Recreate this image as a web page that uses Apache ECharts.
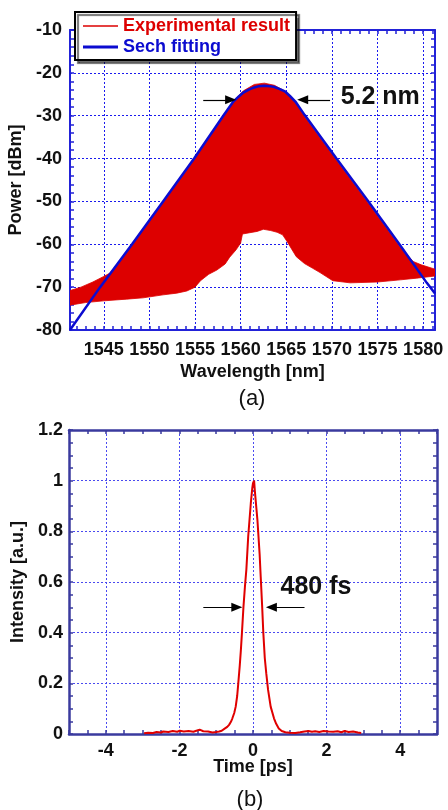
<!DOCTYPE html>
<html><head><meta charset="utf-8">
<script src="https://cdn.jsdelivr.net/npm/echarts@6.0.0/dist/echarts.min.js"></script>
<style>html,body{margin:0;padding:0;background:#fff}#c{width:448px;height:810px}</style>
</head><body><div id="c"></div>
<script>
// ---------- (a) optical spectrum ----------
const specUpperX = [1541.3, 1542.5, 1543.8, 1545.0, 1545.7, 1548.1, 1551.5, 1554.9, 1558.1, 1559.2, 1560.3, 1561.5, 1562.6, 1563.7, 1564.9, 1566.0, 1567.0, 1570.5, 1574.0, 1577.4, 1578.9, 1579.8, 1581.3];
const specUpperY = [-70.8, -70.0, -68.8, -67.5, -66.7, -60.2, -50.2, -40.2, -30.2, -26.6, -24.2, -22.7, -22.4, -22.9, -24.3, -26.9, -30.2, -40.4, -50.4, -60.4, -64.0, -64.8, -65.8];
const specLowerX = [1541.3, 1543.0, 1545.0, 1547.5, 1549.3, 1551.5, 1553.0, 1554.1, 1555.0, 1555.6, 1556.5, 1557.4, 1558.3, 1558.8, 1559.5, 1560.0, 1560.2, 1561.0, 1561.8, 1562.5, 1563.3, 1564.0, 1564.6, 1565.1, 1566.1, 1567.0, 1567.9, 1568.7, 1570.1, 1572.0, 1575.0, 1577.5, 1579.3, 1581.3];
const specLowerY = [-74.2, -73.6, -73.2, -72.8, -72.5, -71.8, -71.4, -70.9, -70.0, -68.5, -67.0, -66.0, -64.6, -63.0, -61.3, -59.7, -57.6, -57.3, -57.0, -56.5, -56.8, -57.2, -57.8, -59.4, -62.9, -64.5, -65.6, -66.6, -68.5, -69.0, -68.8, -68.3, -67.9, -67.4];
const sechX = [1541.3, 1544.6, 1548.1, 1551.5, 1554.9, 1558.1, 1559.2, 1559.8, 1560.3, 1560.9, 1561.5, 1562.0, 1562.6, 1563.2, 1563.7, 1564.3, 1564.9, 1565.4, 1566.0, 1567.0, 1570.5, 1574.0, 1577.4, 1580.4, 1581.3];
const sechY = [-80, -70, -60, -50, -40, -30, -26.7, -25.5, -24.6, -23.9, -23.4, -23.1, -23.0, -23.1, -23.3, -23.8, -24.4, -25.4, -26.7, -29.8, -40, -50, -60, -69, -71.5];
const aXRange = [1541.3, 1581.3];
const aXLabelRange = [1545, 1580];   // labelled ticks every 5 nm
const aXMinorStart = 1542;           // minor ticks every 1 nm
const aWidthText = '5.2 nm';
const aArrowY = -26.3;
const aArrowL = [1555.9, 1558.9];
const aArrowR = [1569.8, 1566.8];
const aTextPos = [1575.3, -25.7];

// ---------- (b) autocorrelation ----------
const pulseT = [-2.96, -2.85, -2.72, -2.62, -2.50, -2.44, -2.30, -2.18, -2.06, -1.99, -1.88, -1.75, -1.62, -1.54, -1.45, -1.35, -1.22, -1.10, -1.00, -0.92, -0.85, -0.78, -0.70, -0.65, -0.60, -0.56, -0.51, -0.47, -0.43, -0.40, -0.36, -0.33, -0.30, -0.26, -0.22, -0.18, -0.13, -0.06, -0.02, 0.00, 0.03, 0.05, 0.07, 0.12, 0.18, 0.21, 0.25, 0.28, 0.32, 0.36, 0.41, 0.48, 0.57, 0.63, 0.70, 0.78, 0.88, 1.00, 1.15, 1.28, 1.40, 1.51, 1.60, 1.69, 1.80, 1.92, 2.05, 2.18, 2.30, 2.40, 2.49, 2.60, 2.72, 2.85, 2.94];
const pulseI = [0.003, 0.005, 0.004, 0.008, 0.006, 0.010, 0.008, 0.012, 0.009, 0.013, 0.010, 0.012, 0.009, 0.013, 0.017, 0.011, 0.010, 0.006, 0.008, 0.010, 0.013, 0.020, 0.028, 0.036, 0.048, 0.062, 0.083, 0.108, 0.150, 0.200, 0.270, 0.330, 0.400, 0.500, 0.580, 0.650, 0.780, 0.910, 0.970, 0.990, 1.000, 0.960, 0.960, 0.845, 0.710, 0.620, 0.500, 0.400, 0.300, 0.240, 0.174, 0.108, 0.062, 0.040, 0.022, 0.012, 0.007, 0.005, 0.004, 0.007, 0.010, 0.012, 0.009, 0.011, 0.008, 0.012, 0.010, 0.009, 0.011, 0.007, 0.012, 0.008, 0.010, 0.006, 0.004];
const bXRange = [-5, 5];
const bXLabelRange = [-4, 4];        // labelled ticks every 2 ps
const bWidthText = '480 fs';
const bArrowY = 0.5;
const bArrowL = [-1.35, -0.44];
const bArrowR = [1.40, 0.50];
const bTextPos = [1.71, 0.58];

const FF = '"Liberation Sans", Arial, Helvetica, sans-serif';
const TXT = '#111';
const aFrame = '#2222d8', aGrid = '#1a1aee';
const bFrame = '#3a3a9e', bGrid = '#4a4af0';
const RED = '#dd0000', BLUE = '#0b0bd0';

// plot rectangles (pixels)
const A = { left: 70, top: 30, width: 365, height: 300 };
const B = { left: 69, top: 430, width: 368, height: 304 };
const aPx = A.width / (aXRange[1] - aXRange[0]);
const bPx = B.width / (bXRange[1] - bXRange[0]);
const gridA2 = { left: A.left + (aXLabelRange[0] - aXRange[0]) * aPx, top: A.top, width: (aXLabelRange[1] - aXLabelRange[0]) * aPx, height: A.height };
const gridA3 = { left: A.left + (aXMinorStart - aXRange[0]) * aPx, top: A.top, width: (aXRange[1] - aXMinorStart) * aPx, height: A.height };
const gridB2 = { left: B.left + (bXLabelRange[0] - bXRange[0]) * bPx, top: B.top, width: (bXLabelRange[1] - bXLabelRange[0]) * bPx, height: B.height };

function lbl(margin) { return { color: TXT, fontFamily: FF, fontWeight: 'bold', fontSize: 18, margin: margin, formatter: v => String(v) }; }
function nameStyle() { return { color: TXT, fontFamily: FF, fontWeight: 'bold', fontSize: 18 }; }
function dotted(c) { return { show: true, lineStyle: { color: c, width: 1, type: [2, 2] } }; }
const noLine = { show: false, onZero: false };
function line(c, w) { return { show: true, onZero: false, lineStyle: { color: c, width: w } }; }
function ticks(c) { return { show: true, inside: true, length: 4, lineStyle: { color: c, width: 1.5 } }; }
function hiddenY(gi) { return { type: 'value', gridIndex: gi, show: false, min: 0, max: 1 }; }

const chart = echarts.init(document.getElementById('c'), null, { renderer: 'canvas' });
const option = {
  animation: false,
  backgroundColor: '#fff',
  grid: [
    Object.assign({ outerBoundsMode: 'none' }, A),
    Object.assign({ outerBoundsMode: 'none' }, B),
    Object.assign({ outerBoundsMode: 'none' }, gridA2),
    Object.assign({ outerBoundsMode: 'none' }, gridA3),
    Object.assign({ outerBoundsMode: 'none' }, gridB2)
  ],
  legend: {
    left: 75, top: 12, orient: 'vertical', backgroundColor: '#fff', borderColor: '#000', borderWidth: 2,
    shadowColor: 'rgba(0,0,0,0.55)', shadowOffsetX: 3, shadowOffsetY: 3, shadowBlur: 1,
    padding: [5, 6, 4, 8], itemGap: 3, itemWidth: 35, itemHeight: 10, selectedMode: false,
    textStyle: { fontFamily: FF, fontSize: 18, fontWeight: 'bold' },
    itemStyle: { borderWidth: 0 },
    data: [
      { name: 'Experimental result', icon: 'path://M0,0M0,10M0,4.2L35,4.2L35,5.8L0,5.8Z', itemStyle: { color: RED, borderWidth: 0 }, textStyle: { color: RED } },
      { name: 'Sech fitting', icon: 'path://M0,0M0,10M0,3.5L35,3.5L35,6.5L0,6.5Z', itemStyle: { color: BLUE, borderWidth: 0 }, textStyle: { color: BLUE } }
    ]
  },
  xAxis: [
    // 0: (a) main bottom
    { type: 'value', gridIndex: 0, position: 'bottom', min: aXRange[0], max: aXRange[1],
      name: 'Wavelength [nm]', nameLocation: 'middle', nameGap: 33, nameTextStyle: nameStyle(),
      axisLine: line(aFrame, 2), axisTick: { show: false }, axisLabel: { show: false }, splitLine: { show: false } },
    // 1: (a) main top
    { type: 'value', gridIndex: 0, position: 'top', min: aXRange[0], max: aXRange[1],
      axisLine: line(aFrame, 2), axisTick: { show: false }, axisLabel: { show: false }, splitLine: { show: false } },
    // 2: (a) labels + grid lines
    { type: 'value', gridIndex: 2, position: 'bottom', min: aXLabelRange[0], max: aXLabelRange[1], interval: 5,
      axisLine: noLine, axisTick: { show: false }, axisLabel: lbl(11), splitLine: dotted(aGrid) },
    // 3,4: (a) minor ticks bottom/top
    { type: 'value', gridIndex: 3, position: 'bottom', min: aXMinorStart, max: aXRange[1], interval: 1,
      axisLine: noLine, axisTick: ticks(aFrame), axisLabel: { show: false }, splitLine: { show: false } },
    { type: 'value', gridIndex: 3, position: 'top', min: aXMinorStart, max: aXRange[1], interval: 1,
      axisLine: noLine, axisTick: ticks(aFrame), axisLabel: { show: false }, splitLine: { show: false } },
    // 5: (b) main bottom with ticks
    { type: 'value', gridIndex: 1, position: 'bottom', min: bXRange[0], max: bXRange[1], interval: 0.5,
      name: 'Time [ps]', nameLocation: 'middle', nameGap: 24, nameTextStyle: nameStyle(),
      axisLine: line(bFrame, 2.5), axisTick: ticks(bFrame), axisLabel: { show: false }, splitLine: { show: false } },
    // 6: (b) main top
    { type: 'value', gridIndex: 1, position: 'top', min: bXRange[0], max: bXRange[1], interval: 0.5,
      axisLine: line(bFrame, 2.5), axisTick: ticks(bFrame), axisLabel: { show: false }, splitLine: { show: false } },
    // 7: (b) labels + grid lines
    { type: 'value', gridIndex: 4, position: 'bottom', min: bXLabelRange[0], max: bXLabelRange[1], interval: 2,
      axisLine: noLine, axisTick: { show: false }, axisLabel: lbl(8), splitLine: dotted(bGrid) }
  ],
  yAxis: [
    { type: 'value', gridIndex: 0, position: 'left', min: -80, max: -10, interval: 10,
      name: 'Power [dBm]', nameLocation: 'middle', nameGap: 40, nameRotate: 90, nameTextStyle: nameStyle(),
      axisLine: line(aFrame, 2), axisTick: ticks(aFrame),
      minorTick: { show: true, splitNumber: 5, length: 4, lineStyle: { color: aFrame, width: 1.5 } },
      axisLabel: lbl(8), splitLine: dotted(aGrid) },
    { type: 'value', gridIndex: 0, position: 'right', min: -80, max: -10, interval: 10,
      axisLine: line(aFrame, 2), axisTick: ticks(aFrame),
      minorTick: { show: true, splitNumber: 5, length: 4, lineStyle: { color: aFrame, width: 1.5 } },
      axisLabel: { show: false }, splitLine: { show: false } },
    { type: 'value', gridIndex: 1, position: 'left', min: 0, max: 1.2, interval: 0.2,
      name: 'Intensity [a.u.]', nameLocation: 'middle', nameGap: 41, nameRotate: 90, nameTextStyle: nameStyle(),
      axisLine: line(bFrame, 2.5), axisTick: ticks(bFrame),
      minorTick: { show: true, splitNumber: 4, length: 4, lineStyle: { color: bFrame, width: 1.5 } },
      axisLabel: lbl(6), splitLine: dotted(bGrid) },
    { type: 'value', gridIndex: 1, position: 'right', min: 0, max: 1.2, interval: 0.2,
      axisLine: line(bFrame, 2.5), axisTick: ticks(bFrame),
      minorTick: { show: true, splitNumber: 4, length: 4, lineStyle: { color: bFrame, width: 1.5 } },
      axisLabel: { show: false }, splitLine: { show: false } },
    hiddenY(2), hiddenY(3), hiddenY(4)
  ],
  series: [
    { name: 'Experimental result', type: 'custom', xAxisIndex: 0, yAxisIndex: 0, clip: true, silent: true,
      itemStyle: { color: RED },
      data: specUpperX.map((x, i) => [x, specUpperY[i]]), encode: { x: 0, y: 1 },
      renderItem: function (params, api) {
        if (params.dataIndex !== 0) return null;
        const pts = [];
        for (let i = 0; i < specUpperX.length; i++) pts.push(api.coord([specUpperX[i], specUpperY[i]]));
        for (let i = specLowerX.length - 1; i >= 0; i--) pts.push(api.coord([specLowerX[i], specLowerY[i]]));
        return { type: 'polygon', shape: { points: pts }, style: { fill: RED, stroke: RED, lineWidth: 0.8 } };
      } },
    { name: 'Sech fitting', type: 'line', xAxisIndex: 0, yAxisIndex: 0, symbol: 'none', smooth: false,
      lineStyle: { color: BLUE, width: 2.5 }, itemStyle: { color: BLUE }, z: 3, silent: true,
      data: sechX.map((x, i) => [x, sechY[i]]),
      markLine: { silent: true, symbol: ['none', 'triangle'], symbolSize: [9, 11], animation: false,
        label: { show: false }, lineStyle: { color: '#000', width: 1.2, type: 'solid' },
        emphasis: { disabled: true },
        data: [
          [{ coord: [aArrowL[0], aArrowY] }, { coord: [aArrowL[1], aArrowY] }],
          [{ coord: [aArrowR[0], aArrowY] }, { coord: [aArrowR[1], aArrowY] }]
        ] },
      markPoint: { silent: true, symbol: 'circle', symbolSize: 1, itemStyle: { color: 'rgba(0,0,0,0)' },
        label: { show: true, position: 'inside', color: TXT, fontFamily: FF, fontSize: 25, fontWeight: 'bold', formatter: aWidthText },
        data: [{ coord: aTextPos }] } },
    { name: 'Autocorrelation', type: 'line', xAxisIndex: 5, yAxisIndex: 2, symbol: 'none', silent: true,
      lineStyle: { color: '#e00000', width: 2 }, itemStyle: { color: '#e00000' },
      data: pulseT.map((t, i) => [t, pulseI[i]]),
      markLine: { silent: true, symbol: ['none', 'triangle'], symbolSize: [9, 11], animation: false,
        label: { show: false }, lineStyle: { color: '#000', width: 1.2, type: 'solid' },
        emphasis: { disabled: true },
        data: [
          [{ coord: [bArrowL[0], bArrowY] }, { coord: [bArrowL[1], bArrowY] }],
          [{ coord: [bArrowR[0], bArrowY] }, { coord: [bArrowR[1], bArrowY] }]
        ] },
      markPoint: { silent: true, symbol: 'circle', symbolSize: 1, itemStyle: { color: 'rgba(0,0,0,0)' },
        label: { show: true, position: 'inside', color: TXT, fontFamily: FF, fontSize: 25, fontWeight: 'bold', formatter: bWidthText },
        data: [{ coord: bTextPos }] } }
  ],
  graphic: [
    { type: 'text', x: 252, y: 399, style: { text: '(a)', fontFamily: FF, fontSize: 22, fill: TXT, align: 'center', verticalAlign: 'middle' } },
    { type: 'text', x: 250, y: 800, style: { text: '(b)', fontFamily: FF, fontSize: 22, fill: TXT, align: 'center', verticalAlign: 'middle' } }
  ]
};
chart.setOption(option);
</script></body></html>
